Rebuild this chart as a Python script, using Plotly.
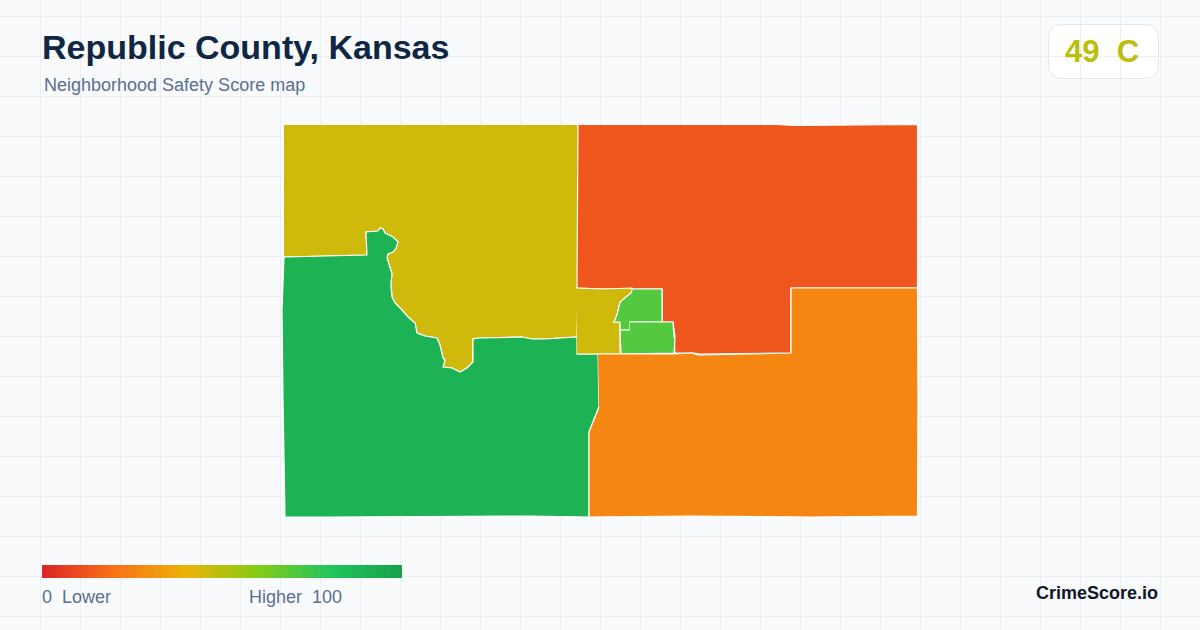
import plotly.graph_objects as go

# page colours
bg_color = "#f8fafc"
grid_color = "#e9eff4"
title_color = "#0f2744"
sub_color = "#5b6f8e"

# shared wiggly edge between the two big zones, north to south
river_x = [284, 330, 367, 366, 378, 380, 383, 385, 393, 398, 396, 393, 388, 387, 390, 392, 391, 391, 392, 395,
           402, 408, 415, 417, 425, 437, 440, 443, 445, 443, 452, 460, 467, 473, 473, 479, 522, 532, 545, 577]
river_y = [257, 256, 255, 232, 231, 228, 229, 233, 237, 242, 248, 252, 254, 258, 267, 274, 282, 288, 297, 303,
           310, 317, 323, 333, 336, 338, 345, 358, 360, 367, 368, 372, 368, 362, 339, 338, 337, 339, 339, 337]

# zones
zone_names = ["North west", "South west", "North east", "Town west", "Town north", "Town south", "South east"]
zone_colors = ["#cfba0c", "#1db254", "#ef561d", "#cfba0c", "#52c93f", "#52c93f", "#f58612"]

zone_x = [
    [284, 579, 578, 577] + river_x[::-1][1:],
    river_x + [577, 598, 599, 589, 589, 530, 330, 285, 283, 282, 284],
    [579, 775, 797, 917.5, 917.5, 791, 791, 700, 694, 675, 674, 675, 673, 662, 662, 633, 604, 577, 578],
    [577, 604, 632, 632, 620, 617, 614, 620, 620, 621, 577],
    [633, 662, 662, 630, 630, 620, 620, 614, 617, 620, 632],
    [630, 673, 674, 675, 674, 621, 620, 630],
    [598, 621, 674, 692, 698, 791, 791, 917.5, 918, 917.5, 810, 690, 589, 589, 599],
]
zone_y = [
    [124.5, 124.5, 288, 337] + river_y[::-1][1:],
    river_y + [354, 354, 407, 432, 517, 516, 517, 517, 400, 310, 257],
    [124.5, 124.5, 125.5, 124.5, 288, 288, 353, 354, 353, 353, 339, 337, 322, 322, 289, 289, 289, 288, 124.5],
    [288, 289, 288, 292, 302, 315, 322, 322, 350, 354, 354],
    [289, 289, 322, 322, 330, 330, 322, 322, 315, 302, 292],
    [322, 322, 337, 339, 353, 354, 330, 330],
    [354, 354, 354, 353, 355, 353, 288, 288, 400, 516, 517, 516, 517, 432, 407],
]

# colour legend
legend_scores = list(range(0, 101))
legend_scale = [[0, "#dc2626"], [0.2, "#f97316"], [0.4, "#eab308"], [0.6, "#84cc16"], [0.8, "#22c55e"], [1, "#16a34a"]]

fig = go.Figure()

for name, color, xs, ys in zip(zone_names, zone_colors, zone_x, zone_y):
    fig.add_trace(go.Scatter(x=xs, y=ys, name=name, mode="lines", fill="toself", fillcolor=color,
                             line=dict(color="#ffffff", width=1.2), hoverinfo="name"))

fig.add_trace(go.Heatmap(z=[legend_scores], x0=43.8, dx=3.564, y0=571.5, dy=13, colorscale=legend_scale,
                         zmin=0, zmax=100, showscale=False, zsmooth=False, hoverinfo="skip"))

# white header hides the grid, badge on the right
shapes = [
    dict(type="rect", x0=0, x1=1200, y0=0, y1=96, fillcolor=bg_color, line_width=0, layer="below"),
    dict(type="path", path="M1062.5,24.5 H1144.5 Q1158.5,24.5 1158.5,38.5 V64.5 Q1158.5,78.5 1144.5,78.5 "
                           "H1062.5 Q1048.5,78.5 1048.5,64.5 V38.5 Q1048.5,24.5 1062.5,24.5 Z",
         fillcolor="#ffffff", line=dict(color="#e2e8f0", width=1), layer="below"),
]

font = "Liberation Sans"
labels = [
    ("Republic County, Kansas", 41.5, 47, 34, title_color, True),
    ("Neighborhood Safety Score map", 43.5, 85, 18, sub_color, False),
    ("49\u00a0\u00a0C", 1064.5, 51, 31, "#bcbe0e", True),
    ("0\u00a0\u00a0Lower", 41.5, 597, 18, sub_color, False),
    ("Higher\u00a0\u00a0100", 248.5, 597, 18, sub_color, False),
    ("CrimeScore.io", 1035.5, 593, 18, "#0f172a", True),
]
annotations = []
for text, x, y, size, color, bold in labels:
    annotations.append(dict(text=f"<b>{text}</b>" if bold else text, x=x, y=y, xref="x", yref="y",
                            xanchor="left", yanchor="middle", showarrow=False, borderpad=0, borderwidth=0,
                            font=dict(family=font, size=size, color=color)))

fig.update_layout(
    width=1200, height=630, margin=dict(l=0, r=0, t=0, b=0),
    paper_bgcolor=bg_color, plot_bgcolor=bg_color, showlegend=False,
    shapes=shapes, annotations=annotations,
    xaxis=dict(range=[0, 1200], tick0=0.5, dtick=40, showgrid=True, gridcolor=grid_color, gridwidth=1,
               zeroline=False, showticklabels=False, ticks="", fixedrange=True),
    yaxis=dict(range=[630, 0], tick0=16.5, dtick=40, showgrid=True, gridcolor=grid_color, gridwidth=1,
               zeroline=False, showticklabels=False, ticks="", fixedrange=True),
)

fig.write_html("out.html", config=dict(displayModeBar=False),
               post_script="document.body.style.margin='0';")
